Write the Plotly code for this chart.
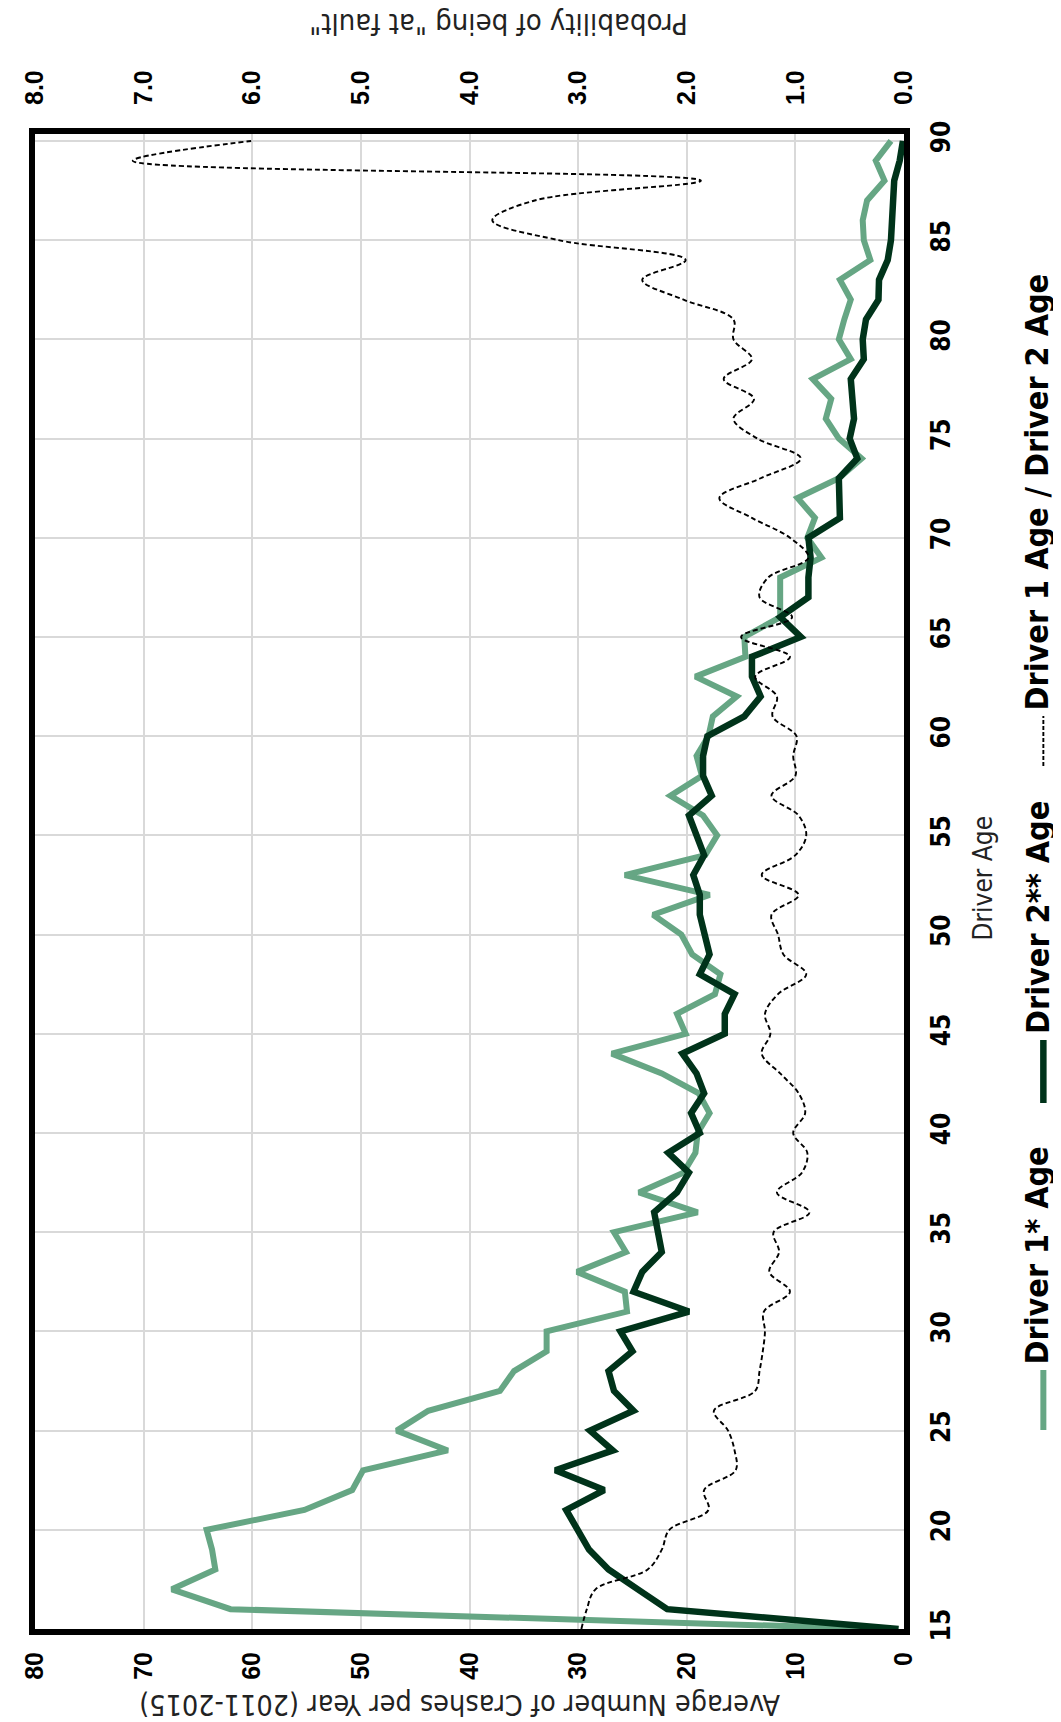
import plotly.graph_objects as go

# driver age (y) and series values (x)
ages = list(range(15, 91))

driver1_crashes = [
    2.0, 62.0, 67.4, 63.4, 63.7, 64.2, 55.2, 50.8, 49.8, 42.0,
    46.7, 43.8, 37.2, 35.9, 32.9, 32.9, 25.5, 25.7, 30.1, 25.6,
    26.7, 19.0, 24.4, 20.3, 19.2, 19.0, 17.9, 18.9, 22.3, 26.9,
    20.1, 20.9, 17.4, 16.9, 19.5, 20.5, 23.1, 17.9, 25.7, 18.3,
    17.2, 18.5, 21.5, 18.6, 19.1, 18.0, 17.6, 15.4, 19.2, 14.6,
    14.7, 11.4, 11.4, 11.4, 7.6, 8.9, 8.2, 9.8, 6.0, 3.9,
    6.0, 7.2, 6.7, 8.4, 4.9, 6.0, 5.5, 4.9, 5.9, 3.1,
    3.7, 3.8, 3.4, 1.8, 2.6, 1.2,
]

driver2_crashes = [
    0.5, 21.8, 24.5, 27.2, 29.0, 30.0, 31.1, 27.6, 32.1, 26.8,
    28.9, 24.9, 26.7, 27.2, 25.0, 26.1, 19.8, 24.9, 24.1, 22.3,
    22.6, 23.0, 20.9, 19.8, 21.7, 18.8, 19.6, 18.4, 19.1, 20.4,
    16.5, 16.5, 15.6, 18.8, 17.9, 18.3, 18.8, 18.8, 19.4, 18.4,
    19.1, 19.8, 17.7, 18.5, 18.5, 18.1, 14.7, 13.2, 14.0, 14.0,
    9.5, 11.4, 8.8, 8.8, 8.6, 8.8, 5.9, 6.0, 6.0, 4.3,
    5.0, 4.6, 4.8, 4.9, 3.7, 3.8, 3.5, 2.35, 2.3, 1.5,
    1.2, 1.05, 1.0, 0.9, 0.4, 0.1,
]

at_fault_prob = [
    2.97, 2.92, 2.84, 2.36, 2.23, 2.16, 1.80, 1.84, 1.55, 1.56,
    1.62, 1.75, 1.37, 1.33, 1.30, 1.28, 1.29, 1.05, 1.24, 1.15,
    1.20, 0.87, 1.17, 0.94, 0.89, 1.02, 0.91, 0.97, 1.14, 1.31,
    1.23, 1.28, 1.16, 0.90, 1.11, 1.16, 1.22, 0.97, 1.31, 1.00,
    0.90, 0.97, 1.22, 1.00, 1.02, 0.99, 1.21, 1.17, 1.37, 1.05,
    1.50, 1.03, 1.33, 1.25, 0.88, 1.05, 1.40, 1.70, 1.32, 0.95,
    1.35, 1.57, 1.38, 1.66, 1.40, 1.57, 1.57, 2.03, 2.41, 2.01,
    3.18, 3.79, 3.40, 1.87, 7.10, 6.01,
]

crash_ticks = [80, 70, 60, 50, 40, 30, 20, 10, 0]
prob_ticks = [8, 7, 6, 5, 4, 3, 2, 1, 0]
prob_labels = ["8.0", "7.0", "6.0", "5.0", "4.0", "3.0", "2.0", "1.0", "0.0"]
age_ticks = list(range(15, 91, 5))

GREEN = "#66A684"
DARK = "#00331A"
GRID = "#D9D9D9"
COND = 'style="font-family:DejaVu Sans Condensed;font-stretch:condensed"'

# plot area in pixels
L, R, T, B = 23, 896, 126, 1621
W, H = 1061, 1722


def px(x):
    return (x - L) / (R - L)


def py(y):
    return (B - y) / (B - T)


def cond(s):
    return f"<span {COND}>{s}</span>"


fig = go.Figure()
fig.add_trace(go.Scatter(x=driver1_crashes, y=ages, mode="lines",
                         line=dict(color=GREEN, width=6), name="Driver 1* Age"))
fig.add_trace(go.Scatter(x=driver2_crashes, y=ages, mode="lines",
                         line=dict(color=DARK, width=6.5), name="Driver 2** Age"))
fig.add_trace(go.Scatter(x=at_fault_prob, y=ages, mode="lines", xaxis="x2",
                         line=dict(color="black", width=1.9, dash="5px,3px", shape="spline"),
                         name="Driver 1 Age / Driver 2 Age"))

bold_tick = dict(family="Liberation Sans", size=25, color="black", weight="bold")
cond_bold = dict(family="DejaVu Sans Condensed, DejaVu Sans", size=26, color="black",
                 weight="bold")

fig.update_layout(
    width=W, height=H,
    margin=dict(l=L, r=W - R, t=T, b=H - B),
    plot_bgcolor="white", paper_bgcolor="white",
    showlegend=False,
    xaxis=dict(range=[80, 0], tickvals=crash_ticks, tickangle=-90,
               showgrid=True, gridcolor=GRID, gridwidth=2, zeroline=False,
               showline=True, mirror=True, linecolor="black", linewidth=6,
               ticks="", tickfont=bold_tick, ticklabelstandoff=7),
    xaxis2=dict(range=[8, 0], overlaying="x", side="top", tickvals=prob_ticks,
                ticktext=prob_labels, tickangle=-90, showgrid=False, zeroline=False,
                ticks="", tickfont=bold_tick, ticklabelstandoff=28),
    yaxis=dict(range=[15, 90.35], tickvals=age_ticks,
               ticktext=[cond(a) for a in age_ticks], side="right", tickangle=-90,
               showgrid=True, gridcolor=GRID, gridwidth=2, zeroline=False,
               showline=True, mirror=True, linecolor="black", linewidth=6,
               ticks="", tickfont=cond_bold, ticklabelstandoff=9),
)

annotations = [
    dict(text=cond("Average Number of Crashes per Year (2011-2015)"), x=px(450), y=py(1715),
         textangle=180,
         font=dict(family="DejaVu Sans Condensed, DejaVu Sans", size=28.5, color="#222222")),
    dict(text=cond("Probability of being \"at fault\""), x=px(489), y=py(-3),
         textangle=180,
         font=dict(family="DejaVu Sans Condensed, DejaVu Sans", size=29, color="#222222")),
    dict(text=cond("Driver Age"), x=px(992), y=py(870), textangle=-90,
         font=dict(family="DejaVu Sans Condensed, DejaVu Sans", size=26, color="#222222")),
]

legend_font = dict(family="DejaVu Sans Condensed, DejaVu Sans", size=32, color="black",
                   weight="bold")
legend_items = [
    ("Driver 1* Age", GREEN, 6, "solid", 1422, 1362),
    ("Driver 2** Age", DARK, 6.5, "solid", 1095, 1032),
    ("Driver 1 Age / Driver 2 Age", "black", 1.9, "4px,2px", 758, 708),
]
shapes = []
for label, color, width, dash, y0, y1 in legend_items:
    shapes.append(dict(type="line", xref="paper", yref="paper",
                       x0=px(1036), x1=px(1036), y0=py(y0), y1=py(y1),
                       line=dict(color=color, width=width, dash=dash)))
    annotations.append(dict(text=cond(label), x=px(1030), y=py(y1 - 4), xanchor="center",
                            yanchor="bottom", textangle=-90, font=legend_font))

for a in annotations:
    a.update(xref="paper", yref="paper", showarrow=False)

fig.update_layout(annotations=annotations, shapes=shapes)

fig.write_html("out.html")
